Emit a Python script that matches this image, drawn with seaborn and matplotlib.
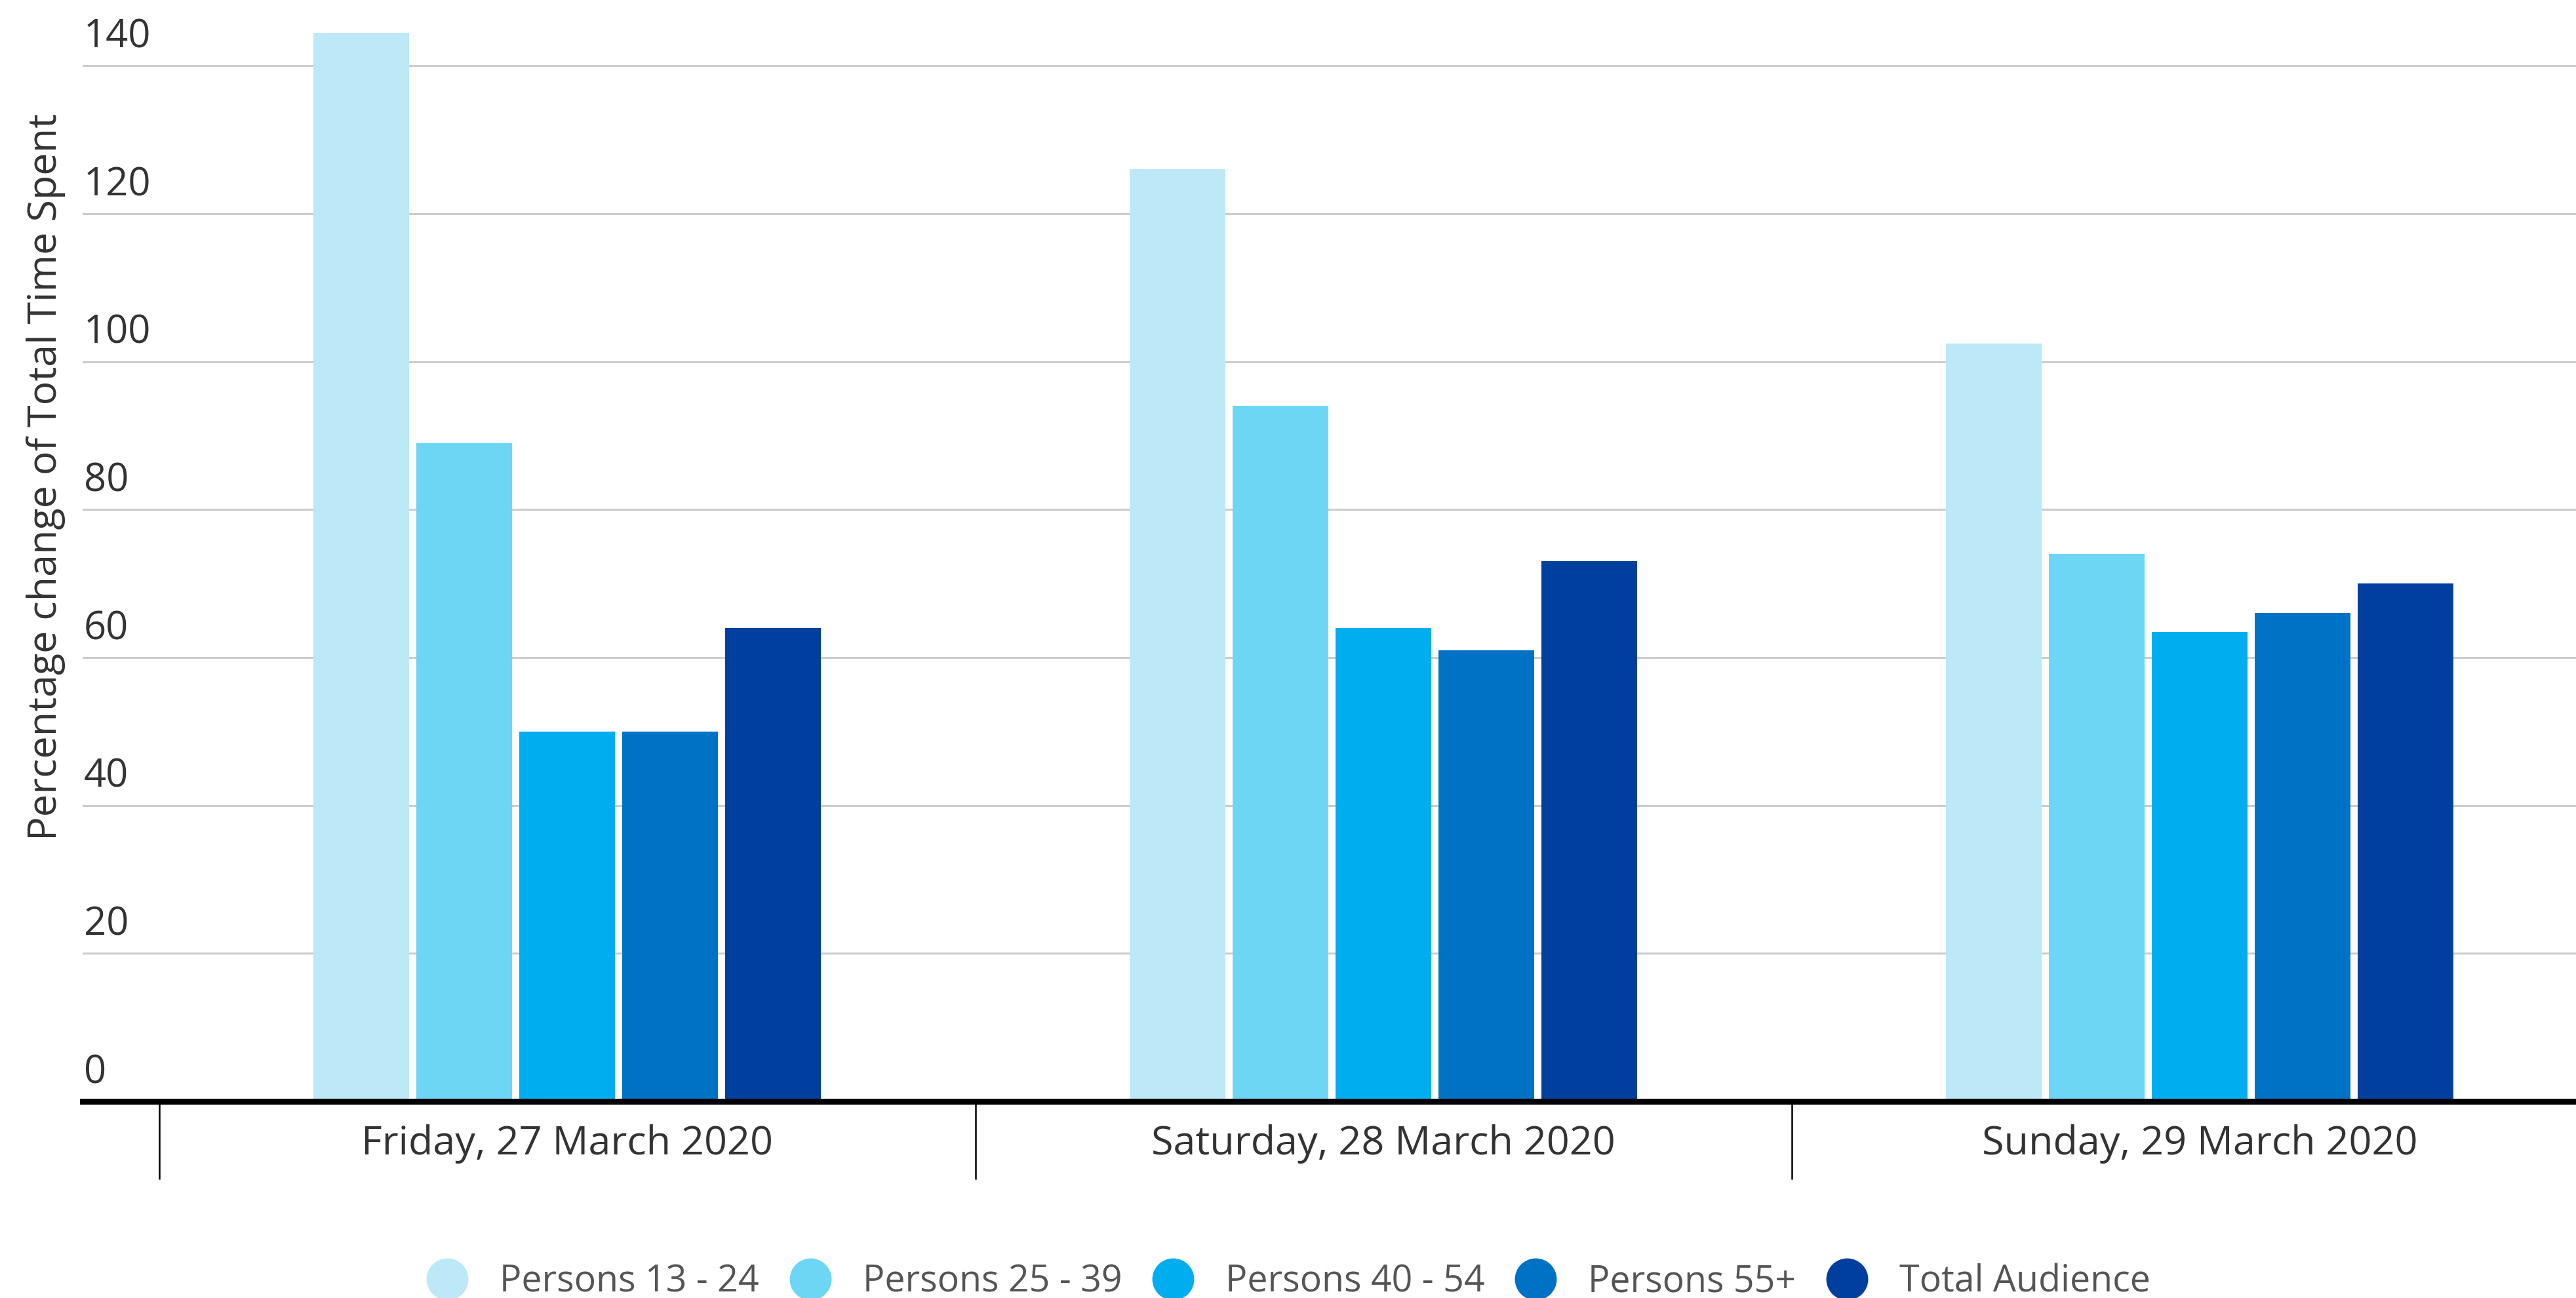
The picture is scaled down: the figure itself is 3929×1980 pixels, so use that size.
import matplotlib
matplotlib.use("Agg")
import matplotlib.pyplot as plt
import matplotlib.transforms as mtrans
from matplotlib.lines import Line2D
import seaborn as sns
import pandas as pd

# ---- data ----
days = ["Friday, 27 March 2020", "Saturday, 28 March 2020", "Sunday, 29 March 2020"]
groups = ["Persons 13 - 24", "Persons 25 - 39", "Persons 40 - 54", "Persons 55+", "Total Audience"]
persons_13_24 = [144.5, 126, 102.5]
persons_25_39 = [89, 94, 74]
persons_40_54 = [50, 64, 63.5]
persons_55_plus = [50, 61, 66]
total_audience = [64, 73, 70]
colors = ["#BDE8F7", "#6DD6F5", "#00AEEF", "#0072C5", "#003F9E"]
y_ticks = [0, 20, 40, 60, 80, 100, 120, 140]
y_label = "Percentage change of Total Time Spent"

series = [persons_13_24, persons_25_39, persons_40_54, persons_55_plus, total_audience]
rows = []
for g, vals in zip(groups, series):
    for d, v in zip(days, vals):
        rows.append({"day": d, "group": g, "value": v})
df = pd.DataFrame(rows)

# ---- style ----
sns.set_theme(style="white")
plt.rcParams["font.family"] = ["Open Sans", "DejaVu Sans"]

W, H = 3929, 1980
fig = plt.figure(figsize=(W / 100, H / 100), dpi=100)
ax_left = 125.5 / W
ax_bottom = 300 / H
ax = fig.add_axes([ax_left, ax_bottom, 1 - ax_left, 1 - ax_bottom])

sns.barplot(data=df, x="day", y="value", hue="group", order=days, hue_order=groups,
            palette=colors, width=0.63, gap=0.07, linewidth=0, saturation=1,
            ax=ax, legend=False)

# grid
ax.set_axisbelow(True)
ax.yaxis.grid(True, color="#CCCCCC", linewidth=2.2)
ax.xaxis.grid(False)

# spines
for s in ["left", "right", "top"]:
    ax.spines[s].set_visible(False)
ax.spines["bottom"].set_color("black")
ax.spines["bottom"].set_linewidth(6.5)
ax.spines["bottom"].set_zorder(5)

# y ticks: labels above grid lines, left aligned
ax.set_yticks(y_ticks)
ax.set_yticklabels([str(t) for t in y_ticks])
ax.tick_params(axis="y", length=0, pad=-1.5, labelsize=43, labelcolor="#333333")
offset = mtrans.ScaledTranslation(0, 10 / 72, fig.dpi_scale_trans)
for lab in ax.get_yticklabels():
    lab.set_horizontalalignment("left")
    lab.set_verticalalignment("bottom")
    lab.set_transform(lab.get_transform() + offset)

# x ticks: category labels, separators as minor ticks
ax.set_xticks(range(len(days)))
ax.set_xticklabels(days)
ax.tick_params(axis="x", which="major", length=0, pad=25, labelsize=44, labelcolor="#333333")
ax.set_xticks([-0.5, 0.5, 1.5, 2.5], minor=True)
ax.tick_params(axis="x", which="minor", length=86, width=1.8, color="black", direction="out", bottom=True)

# limits (after ticks so they are not expanded)
ax.set_xlim(-0.594, 2.461)
ax.set_ylim(0, 148.9)

ax.set_xlabel("")
ax.set_ylabel(y_label, fontsize=44, color="#333333", va="center")
ax.yaxis.set_label_coords(-0.0145, 0.567)

# legend with circle markers
handles = [Line2D([0], [0], marker="o", linestyle="", markersize=45,
                  markerfacecolor=c, markeredgecolor=c) for c in colors]
fig.legend(handles, groups, loc="center", bbox_to_anchor=(0.5, 24 / H), ncol=5,
           frameon=False, fontsize=40, labelcolor="#555555",
           handlelength=1.2, handletextpad=0.84, columnspacing=0.8)

fig.savefig("out.png", dpi=100)
